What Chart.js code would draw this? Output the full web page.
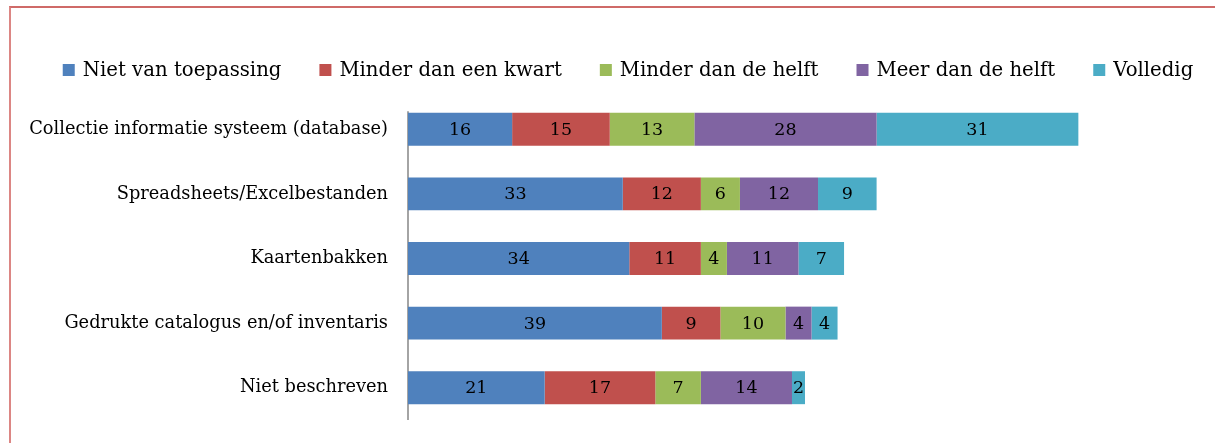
<!DOCTYPE html>
<html>
<head>
<meta charset="utf-8">
<script src="https://cdn.jsdelivr.net/npm/chart.js@4/dist/chart.umd.min.js"></script>
<style>
  html, body { margin: 0; padding: 0; background: #fff; overflow: hidden; }
  #wrap { position: relative; width: 1215px; height: 443px; }
  #frame { position: absolute; left: 9px; top: 6px; width: 1300px; height: 600px;
           border-left: 2px solid #dc8684; border-top: 2px solid #cf6a68; pointer-events: none; }
  canvas { position: absolute; left: 0; top: 0; }
</style>
</head>
<body>
<div id="wrap">
  <canvas id="c" width="1215" height="443"></canvas>
  <div id="frame"></div>
</div>
<script>
const categories = [
  'Collectie informatie systeem (database)',
  'Spreadsheets/Excelbestanden',
  'Kaartenbakken',
  'Gedrukte catalogus en/of inventaris',
  'Niet beschreven'
];
const seriesNames = ['Niet van toepassing', 'Minder dan een kwart', 'Minder dan de helft', 'Meer dan de helft', 'Volledig'];
const nietVanToepassing = [16, 33, 34, 39, 21];
const minderDanEenKwart = [15, 12, 11, 9, 17];
const minderDanDeHelft  = [13, 6, 4, 10, 7];
const meerDanDeHelft    = [28, 12, 11, 4, 14];
const volledig          = [31, 9, 7, 4, 2];
const xMax = 120;

const colors = ['#4F81BD', '#C0504D', '#9BBB59', '#8064A2', '#4BACC6'];
const seriesValues = [nietVanToepassing, minderDanEenKwart, minderDanDeHelft, meerDanDeHelft, volledig];
const FONT = "'DejaVu Serif', serif";

const dataLabels = {
  id: 'dataLabels',
  afterDatasetsDraw(chart) {
    const ctx = chart.ctx;
    ctx.save();
    ctx.font = "17.5px " + FONT;
    ctx.fillStyle = '#000';
    ctx.textAlign = 'center';
    ctx.textBaseline = 'middle';
    chart.data.datasets.forEach((ds, i) => {
      const meta = chart.getDatasetMeta(i);
      meta.data.forEach((el, j) => {
        const p = el.getProps(['x', 'y', 'base'], true);
        ctx.fillText(String(ds.data[j]), (p.x + p.base) / 2, p.y + 1);
      });
    });
    ctx.restore();
  }
};

// Category axis line: from the top of the first bar down to the bottom of the plot area
const axisLine = {
  id: 'axisLine',
  beforeDatasetsDraw(chart) {
    const el = chart.getDatasetMeta(0).data[0];
    if (!el) return;
    const p = el.getProps(['y', 'height'], true);
    const ctx = chart.ctx;
    const x = chart.chartArea.left;
    ctx.save();
    ctx.strokeStyle = '#868686';
    ctx.lineWidth = 1.5;
    ctx.beginPath();
    ctx.moveTo(x, p.y - p.height / 2 - 1.5);
    ctx.lineTo(x, chart.chartArea.bottom);
    ctx.stroke();
    ctx.restore();
  }
};

// Legend drawn from the datasets (single row, centred)
const topLegend = {
  id: 'topLegend',
  afterDraw(chart) {
    const ctx = chart.ctx;
    const o = chart.options.plugins.topLegend;
    ctx.save();
    ctx.font = o.size + "px " + FONT;
    ctx.textBaseline = 'middle';
    ctx.textAlign = 'left';
    const items = chart.data.datasets.map(ds => ({
      text: ds.label, color: ds.backgroundColor, w: ctx.measureText(ds.label).width
    }));
    const total = items.reduce((s, it) => s + o.box + o.gap + it.w, 0) + o.spacing * (items.length - 1);
    let x = o.centerX - total / 2;
    items.forEach(it => {
      ctx.fillStyle = it.color;
      ctx.fillRect(x, o.y - o.box / 2, o.box, o.box);
      ctx.fillStyle = '#000';
      ctx.fillText(it.text, x + o.box + o.gap, o.y + 1);
      x += o.box + o.gap + it.w + o.spacing;
    });
    ctx.restore();
  }
};

new Chart(document.getElementById('c'), {
  type: 'bar',
  data: {
    labels: categories,
    datasets: seriesNames.map((n, i) => ({
      label: n,
      data: seriesValues[i],
      backgroundColor: colors[i],
      borderWidth: 0,
      categoryPercentage: 1,
      barPercentage: 0.51
    }))
  },
  options: {
    indexAxis: 'y',
    responsive: false,
    animation: false,
    layout: { padding: { left: 20, right: 26, top: 97, bottom: 23 } },
    plugins: {
      tooltip: { enabled: false },
      legend: { display: false },
      topLegend: { centerX: 628, y: 70, box: 12, gap: 8, spacing: 38, size: 19.7 }
    },
    scales: {
      x: {
        stacked: true,
        display: false,
        min: 0,
        max: xMax
      },
      y: {
        stacked: true,
        grid: { display: false, drawTicks: true, tickLength: 20 },
        border: { display: false },
        ticks: { color: '#000', padding: 0, font: { family: FONT, size: 17.8 } },
        afterFit(scale) { scale.width = 388; }
      }
    }
  },
  plugins: [axisLine, dataLabels, topLegend]
});
</script>
</body>
</html>
